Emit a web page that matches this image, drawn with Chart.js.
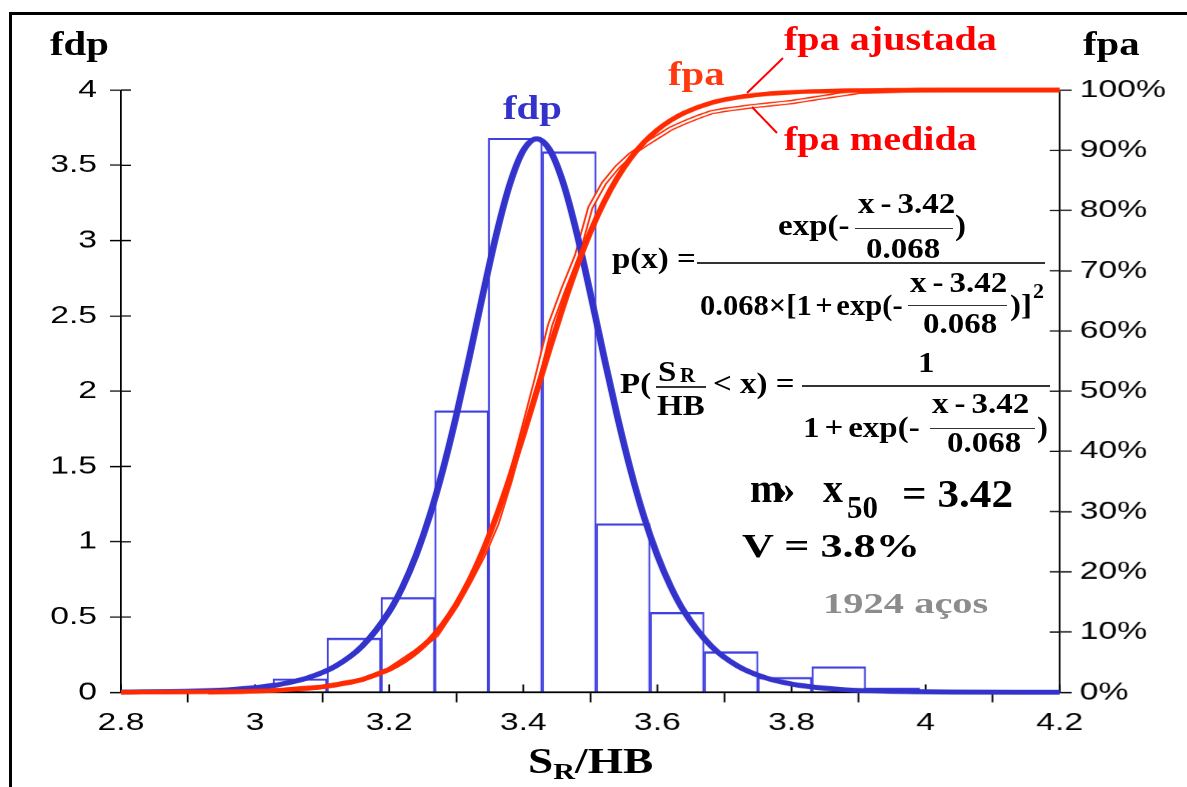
<!DOCTYPE html>
<html>
<head>
<meta charset="utf-8">
<script src="https://cdn.jsdelivr.net/npm/chart.js@4.4.0/dist/chart.umd.min.js"></script>
<style>
html, body { margin: 0; padding: 0; background: #fff; width: 1187px; height: 787px; overflow: hidden; }
#frame { position: absolute; left: 9px; top: 12px; width: 1210px; height: 820px; border: 3px solid #000; box-sizing: border-box; }
#stage { position: absolute; left: 0; top: 0; width: 879.26px; height: 787px; transform: scaleX(1.35); transform-origin: 0 0; }
.t { position: absolute; font-family: 'Liberation Serif', 'Times New Roman', serif; font-weight: bold; white-space: nowrap; line-height: 1; transform-origin: 0 0; color: #000; }
.eq { font-size: 30px; transform: scaleX(1.1); }
.ln { position: absolute; background: #333; }
</style>
</head>
<body>
<div id="frame"></div>
<div id="stage"><canvas id="chart"></canvas></div>

<!-- axis headings -->
<div class="t" style="left:50px;top:26.5px;font-size:34px;transform:scaleX(1.2)">fdp</div>
<div class="t" style="left:1083px;top:26.5px;font-size:34px;transform:scaleX(1.2)">fpa</div>

<!-- curve labels -->
<div class="t" style="left:503px;top:90.5px;font-size:34px;transform:scaleX(1.2);color:#3333cc">fdp</div>
<div class="t" style="left:668px;top:56.5px;font-size:34px;transform:scaleX(1.2);color:#ff3a10">fpa</div>
<div class="t" style="left:784px;top:21.5px;font-size:34px;transform:scaleX(1.18);color:#ff0000">fpa ajustada</div>
<div class="t" style="left:784px;top:121.5px;font-size:34px;transform:scaleX(1.18);color:#ff0000">fpa medida</div>
<svg style="position:absolute;left:0;top:0" width="1187" height="787">
  <line x1="747" y1="93" x2="783" y2="58" stroke="#ff0000" stroke-width="2"/>
  <line x1="752" y1="107" x2="777" y2="133" stroke="#ff0000" stroke-width="2"/>
</svg>

<!-- p(x) -->
<div class="t eq" style="left:612px;top:243px">p(x) =</div>
<div class="t eq" style="left:778px;top:210px">exp(-</div>
<div class="t eq" style="left:858px;top:188px;word-spacing:-2px">x - 3.42</div>
<div class="ln" style="left:855px;top:227.5px;width:98px;height:1.5px"></div>
<div class="t eq" style="left:866px;top:233px">0.068</div>
<div class="t eq" style="left:955px;top:210px">)</div>
<div class="ln" style="left:697px;top:262px;width:348px;height:2px"></div>
<div class="t eq" style="left:700px;top:290px;word-spacing:-4px;transform:scaleX(1.02)">0.068×[1 + exp(-</div>
<div class="t eq" style="left:910px;top:267px;word-spacing:-2px">x - 3.42</div>
<div class="ln" style="left:908px;top:304.5px;width:99px;height:1.5px"></div>
<div class="t eq" style="left:923px;top:308px">0.068</div>
<div class="t eq" style="left:1010px;top:290px">)]</div>
<div class="t" style="left:1033px;top:279.6px;font-size:22px">2</div>

<!-- P(SR/HB < x) -->
<div class="t eq" style="left:620px;top:368px">P(</div>
<div class="t eq" style="left:658px;top:356px">S</div>
<div class="t" style="left:680px;top:365.4px;font-size:21px">R</div>
<div class="ln" style="left:656px;top:386px;width:50px;height:1.5px"></div>
<div class="t eq" style="left:657px;top:390px">HB</div>
<div class="t eq" style="left:713px;top:368px">&lt; x) =</div>
<div class="t eq" style="left:918px;top:347px">1</div>
<div class="ln" style="left:802px;top:385px;width:248px;height:2px"></div>
<div class="t eq" style="left:803px;top:412px;word-spacing:-3px">1 + exp(-</div>
<div class="t eq" style="left:932px;top:388px;word-spacing:-2px">x - 3.42</div>
<div class="ln" style="left:930px;top:427.5px;width:105px;height:1.5px"></div>
<div class="t eq" style="left:947px;top:427px">0.068</div>
<div class="t eq" style="left:1037px;top:412px">)</div>

<!-- statistics -->
<div class="t" style="left:750px;top:468.5px;font-size:40px;letter-spacing:-8px">m»</div>
<div class="t" style="left:823px;top:468.5px;font-size:40px">x</div>
<div class="t" style="left:847px;top:492px;font-size:31px">50</div>
<div class="t" style="left:902px;top:473.5px;font-size:40px;transform:scaleX(1.08)">= 3.42</div>
<div class="t" style="left:742px;top:528.5px;font-size:34px;transform:scaleX(1.3)">V = 3.8%</div>
<div class="t" style="left:823px;top:588px;font-size:30px;transform:scaleX(1.35);color:#8c8c8c">1924 aços</div>

<!-- x axis title -->
<div class="t" style="left:528px;top:743px;font-size:36px;transform:scaleX(1.26)">S<span style="font-size:24px;position:relative;top:6px">R</span>/HB</div>

<script>
// histogram (fdp, left axis)
const binEdges = [3.027, 3.107, 3.188, 3.268, 3.348, 3.428, 3.509, 3.589, 3.670, 3.750, 3.830, 3.911, 3.991];
const binHeights = [0.09, 0.36, 0.63, 1.87, 3.68, 3.59, 1.12, 0.53, 0.27, 0.10, 0.17, 0.03];

// fitted curves
const curveX = [2.80, 2.90, 2.96, 3.00, 3.04, 3.08, 3.12, 3.16, 3.20, 3.22, 3.24, 3.26, 3.28, 3.30, 3.32, 3.34, 3.36, 3.38, 3.40, 3.42,
                3.44, 3.46, 3.48, 3.50, 3.52, 3.54, 3.56, 3.58, 3.60, 3.62, 3.64, 3.68, 3.72, 3.76, 3.80, 3.84, 3.88, 3.94, 4.04, 4.20];
const pdfFit = [0.002, 0.007, 0.017, 0.031, 0.055, 0.098, 0.174, 0.308, 0.536, 0.701, 0.909, 1.166, 1.476, 1.836, 2.235, 2.649, 3.045, 3.376, 3.598, 3.676,
                3.598, 3.376, 3.045, 2.649, 2.235, 1.836, 1.476, 1.166, 0.909, 0.701, 0.536, 0.308, 0.174, 0.098, 0.055, 0.031, 0.017, 0.008, 0.002, 0.000];
const cdfFit = [0.01, 0.05, 0.12, 0.21, 0.37, 0.67, 1.20, 2.14, 3.79, 5.02, 6.62, 8.68, 11.32, 14.62, 18.69, 23.57, 29.27, 35.71, 42.70, 50.00,
                57.30, 64.29, 70.73, 76.43, 81.31, 85.38, 88.68, 91.32, 93.38, 94.98, 96.21, 97.86, 98.80, 99.33, 99.63, 99.79, 99.89, 99.95, 99.99, 100];

// measured cumulative curve (fpa medida)
const measX = [2.93, 2.98, 3.04, 3.10, 3.16, 3.20, 3.24, 3.27, 3.30, 3.32, 3.34, 3.36, 3.38, 3.40, 3.42, 3.44, 3.46, 3.48, 3.50, 3.52,
               3.54, 3.56, 3.58, 3.60, 3.62, 3.64, 3.66, 3.68, 3.70, 3.74, 3.80, 3.84, 3.87, 3.90, 3.99, 4.20];
const measCdf = [0.0, 0.1, 0.4, 0.9, 2.1, 3.8, 6.8, 9.5, 14.5, 18.5, 22.8, 28.0, 35.2, 43.5, 52.0, 61.0, 67.0, 72.5, 80.5, 84.5,
                 87.2, 89.3, 90.8, 92.2, 93.6, 94.6, 95.5, 96.3, 96.7, 97.3, 98.0, 98.7, 99.2, 99.7, 100, 100];

const pts = (xs, ys) => xs.map((x, i) => ({ x: x, y: ys[i] }));
const bars = binHeights.map((h, i) => ({ x: (binEdges[i] + binEdges[i + 1]) / 2, y: h }));
const round1 = v => String(Math.round(v * 10) / 10);

const innerTicks = {
    id: 'innerTicks',
    beforeDatasetsDraw(chart) {
        const ctx = chart.ctx, a = chart.chartArea;
        const sx = chart.scales.x, sy = chart.scales.y, sr = chart.scales.y2;
        ctx.save();
        ctx.strokeStyle = '#000';
        ctx.lineWidth = 1.3;
        ctx.beginPath();
        sx.ticks.forEach(t => { const p = sx.getPixelForValue(t.value); ctx.moveTo(p, a.bottom); ctx.lineTo(p, a.bottom - 8); });
        sy.ticks.forEach(t => { const p = sy.getPixelForValue(t.value); ctx.moveTo(a.left, p); ctx.lineTo(a.left + 7.4, p); });
        sr.ticks.forEach(t => { const p = sr.getPixelForValue(t.value); ctx.moveTo(a.right, p); ctx.lineTo(a.right - 7.4, p); });
        ctx.stroke();
        ctx.restore();
    }
};

const tickFont = { family: "'Liberation Sans', Arial, sans-serif", size: 25 };

new Chart(document.getElementById('chart').getContext('2d'), {
    type: 'line',
    data: {
        datasets: [
            {
                label: 'fpa ajustada', data: pts(curveX, cdfFit), yAxisID: 'y2', order: 1,
                borderColor: '#ff2a00', borderWidth: 4.5, pointRadius: 0, cubicInterpolationMode: 'monotone', clip: false
            },
            {
                label: 'fdp', data: pts(curveX, pdfFit), yAxisID: 'y', order: 2,
                borderColor: '#3333cc', borderWidth: 5, pointRadius: 0, cubicInterpolationMode: 'monotone', clip: false
            },
            {
                label: 'fpa medida (interior)', data: pts(measX, measCdf), yAxisID: 'y2', order: 3,
                borderColor: '#ffffff', borderWidth: 1.8, pointRadius: 0, clip: false
            },
            {
                label: 'fpa medida', data: pts(measX, measCdf), yAxisID: 'y2', order: 4,
                borderColor: '#ff2a00', borderWidth: 4.5, pointRadius: 0, clip: false
            },
            {
                type: 'bar', label: 'histograma', data: bars, yAxisID: 'y', order: 5,
                backgroundColor: 'rgba(0,0,0,0)', borderColor: '#4040e0',
                borderWidth: { top: 1.6, left: 0.8, right: 0.8, bottom: 0 },
                borderSkipped: false, barPercentage: 1, categoryPercentage: 1
            }
        ]
    },
    options: {
        responsive: true,
        maintainAspectRatio: false,
        devicePixelRatio: 1.35,
        animation: false,
        layout: { padding: { top: 90, left: 0, right: 0, bottom: 0 } },
        plugins: { legend: { display: false }, tooltip: { enabled: false } },
        scales: {
            x: {
                type: 'linear', min: 2.8, max: 4.2, offset: false,
                ticks: { stepSize: 0.2, font: tickFont, color: '#000', padding: 6, maxRotation: 0, callback: round1 },
                grid: { drawOnChartArea: false, tickLength: 10, tickColor: '#000', tickWidth: 1.3 },
                border: { color: '#000', width: 1.6 },
                afterFit: s => { s.height = 95; }
            },
            y: {
                position: 'left', min: 0, max: 4,
                ticks: { stepSize: 0.5, font: tickFont, color: '#000', padding: 9.6, callback: round1 },
                grid: { drawOnChartArea: false, tickLength: 8.1, tickColor: '#000', tickWidth: 1.3 },
                border: { color: '#000', width: 1.3 },
                afterFit: s => { s.width = 89.6; }
            },
            y2: {
                position: 'right', min: 0, max: 100,
                ticks: { stepSize: 10, font: tickFont, color: '#000', padding: 5.9, callback: v => v + '%' },
                grid: { drawOnChartArea: false, tickLength: 8.9, tickColor: '#000', tickWidth: 1.3 },
                border: { color: '#000', width: 1.3 },
                afterFit: s => { s.width = 94.1; }
            }
        }
    },
    plugins: [innerTicks]
});
</script>
</body>
</html>
